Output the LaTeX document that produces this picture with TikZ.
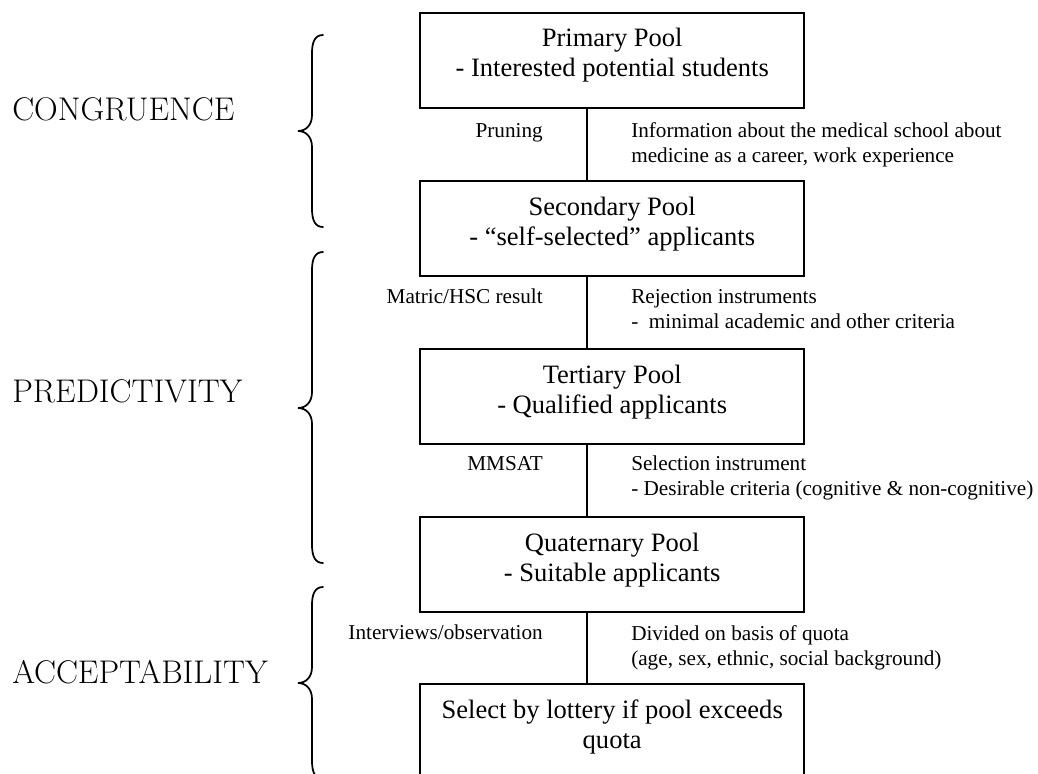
\documentclass[tikz,border=0pt]{standalone}
\usepackage{fontspec}
\setmainfont{Liberation Serif}
\newfontfamily\lmfont{Latin Modern Roman}
\usetikzlibrary{calc}
\newcommand\drawbrace[3]{%
  \draw[bracestyle] (323,#1) .. controls (315,#1) and (312,#1+7) .. (312,#1+18)
    -- (312,#2-16) .. controls (312,#2-6) and (306,#2) .. (298,#2)
    .. controls (306,#2) and (312,#2+6) .. (312,#2+16)
    -- (312,#3-18) .. controls (312,#3-7) and (315,#3) .. (323,#3);}
\begin{document}
\begin{tikzpicture}[x=0.75pt,y=-0.75pt,
  poolbox/.style={draw, line width=1.8pt, minimum width=288pt, minimum height=71.25pt,
    inner sep=0pt, anchor=north west},
  pooltext/.style={anchor=base, align=center, inner sep=0pt,
    font=\fontsize{19.9}{22.5}\selectfont},
  conn/.style={line width=1.4pt},
  lefttext/.style={anchor=base east, inner sep=0pt, font=\fontsize{15.9}{18.75}\selectfont},
  righttext/.style={anchor=base west, align=left, inner sep=0pt, font=\fontsize{15.9}{18.75}\selectfont},
  stagetext/.style={anchor=base west, inner sep=0pt, font=\lmfont\fontsize{24.6}{29}\selectfont},
  bracestyle/.style={line width=1.3pt, line cap=round}]
\useasboundingbox (0,0) rectangle (1038,774);
\clip (0,0) rectangle (1038,774);

% pool boxes
\node[poolbox] (b1) at (419,12) {};
\node[poolbox] (b2) at (419,180) {};
\node[poolbox] (b3) at (419,348) {};
\node[poolbox] (b4) at (419,516) {};
\node[poolbox] (b5) at (419,683) {};

% box texts (anchor = baseline of the last line)
\node[pooltext] (t1) at ($(b1.north)+(0,65)$) {Primary Pool\\- Interested potential students};
\node[pooltext] (t2) at ($(b2.north)+(0,65)$) {Secondary Pool\\- “self-selected” applicants};
\node[pooltext] (t3) at ($(b3.north)+(0,65)$) {Tertiary Pool\\- Qualified applicants};
\node[pooltext] (t4) at ($(b4.north)+(0,65)$) {Quaternary Pool\\- Suitable applicants};
\node[pooltext] (t5) at ($(b5.north)+(0,65)$) {Select by lottery if pool exceeds\\quota};

% connectors
\coordinate (lx) at (587,0);
\draw[conn] (b1.south -| lx) -- (b2.north -| lx);
\draw[conn] (b2.south -| lx) -- (b3.north -| lx);
\draw[conn] (b3.south -| lx) -- (b4.north -| lx);
\draw[conn] (b4.south -| lx) -- (b5.north -| lx);

% left labels of connectors
\node[lefttext] (p1) at (543,137) {Pruning};
\node[lefttext] (p2) at (543,303) {Matric/HSC result};
\node[lefttext] (p3) at (543,470) {MMSAT};
\node[lefttext] (p4) at (543,639) {Interviews/observation};

% right labels of connectors (anchor = baseline of the last line)
\node[righttext] (q1) at (631,162) {Information about the medical school about\\medicine as a career, work experience};
\node[righttext] (q2) at (631,328) {Rejection instruments\\- \ minimal academic and other criteria};
\node[righttext] (q3) at (631,495) {Selection instrument\\- Desirable criteria (cognitive \& non-cognitive)};
\node[righttext] (q4) at (631,665) {Divided on basis of quota\\(age, sex, ethnic, social background)};

% stage labels
\node[stagetext] (s1) at (12,120) {CONGRUENCE};
\node[stagetext] (s2) at (12,402) {PREDICTIVITY};
\node[stagetext] (s3) at (12,683) {ACCEPTABILITY};

% braces
\drawbrace{35}{131}{227}
\drawbrace{252}{408}{563}
\drawbrace{587}{683}{779}
\end{tikzpicture}
\end{document}
